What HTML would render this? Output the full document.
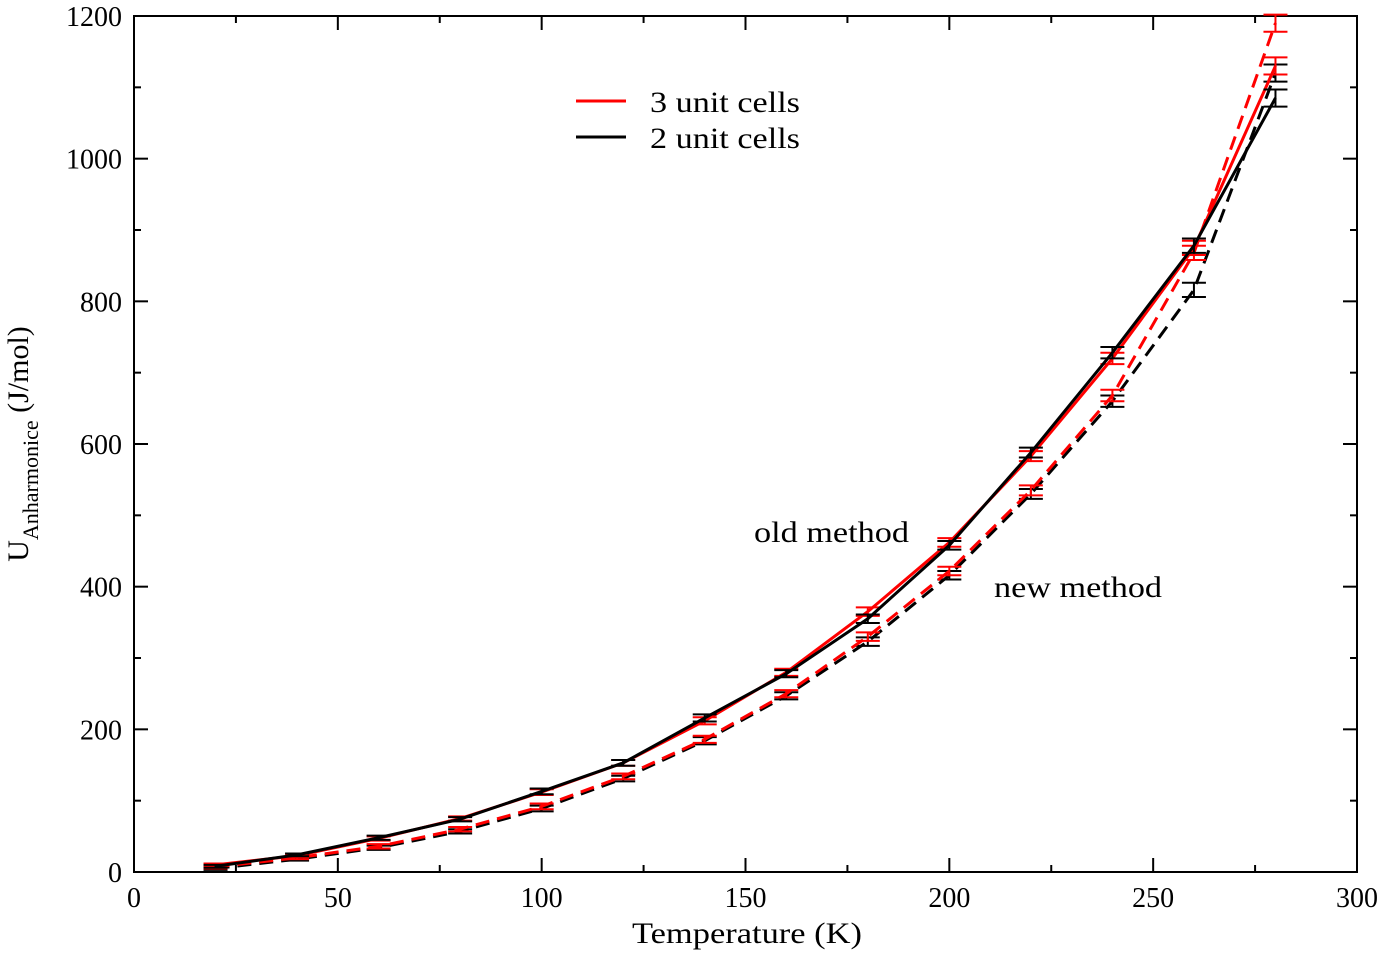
<!DOCTYPE html>
<html><head><meta charset="utf-8"><style>
html,body{margin:0;padding:0;background:#fff;}
svg{display:block;font-family:"Liberation Serif",serif;}
</style></head><body>
<svg id="chart" width="1386" height="954">
<g id="plot"></g>
<g>
<line x1="576" y1="101" x2="626" y2="101" stroke="#f00" stroke-width="3"/>
<text x="650" y="112" font-size="30" textLength="150" lengthAdjust="spacingAndGlyphs">3 unit cells</text>
<line x1="576" y1="137" x2="626" y2="137" stroke="#000" stroke-width="3"/>
<text x="650" y="148" font-size="30" textLength="150" lengthAdjust="spacingAndGlyphs">2 unit cells</text>
</g>
<text x="754" y="542" font-size="30" textLength="155" lengthAdjust="spacingAndGlyphs">old method</text>
<text x="994" y="597" font-size="30" textLength="168" lengthAdjust="spacingAndGlyphs">new method</text>
<text x="632" y="943" font-size="30" textLength="230" lengthAdjust="spacingAndGlyphs">Temperature (K)</text>
<text transform="translate(28,444) rotate(-90)" font-size="30" text-anchor="middle">U<tspan font-size="22" dy="10">Anharmonice</tspan><tspan dy="-10"> (J/mol)</tspan></text>
</svg>
<script>
const temps=[20,40,60,80,100,120,140,160,180,200,220,240,260,280];
const oldRed=[10,23,47,75,112,153,212,280,365,462,583,720,875,1130];
const oldBlack=[8,24,48,74,113,153,216,278,355,458,588,728,878,1085];
const newRed=[7,20,36,60,92,134,186,250,330,422,535,668,868,1190];
const newBlack=[5,18,34,57,89,131,184,247,323,416,530,660,816,1120];
const errs=[2,2,3,3,4,4,5,5,6,6,7,8,10,12];
const xTicks=[0,50,100,150,200,250,300];
const yTicks=[0,200,400,600,800,1000,1200];
const X0=134,X1=1357,Y0=872,Y1=16;
const xs=v=>X0+(v/300)*(X1-X0);
const ys=v=>Y0-(v/1200)*(Y0-Y1);
const NS="http://www.w3.org/2000/svg";
const g=document.getElementById('plot');
function el(t,a,p){const e=document.createElementNS(NS,t);for(const k in a)e.setAttribute(k,a[k]);(p||g).appendChild(e);return e;}
const fr=el('rect',{x:X0,y:Y1,width:X1-X0,height:Y0-Y1,fill:'none',stroke:'#000','stroke-width':2});


xTicks.forEach(t=>{
 const x=xs(t);
 el('line',{x1:x,y1:Y0,x2:x,y2:Y0-14,stroke:'#000','stroke-width':2});
 el('line',{x1:x,y1:Y1,x2:x,y2:Y1+14,stroke:'#000','stroke-width':2});
 const lb=el('text',{x:x,y:907,'font-size':28,'text-anchor':'middle'});lb.textContent=t;
 
 
});
for(let t=25;t<300;t+=50){const x=xs(t);
 el('line',{x1:x,y1:Y0,x2:x,y2:Y0-7,stroke:'#000','stroke-width':2});
 el('line',{x1:x,y1:Y1,x2:x,y2:Y1+7,stroke:'#000','stroke-width':2});}
yTicks.forEach(t=>{
 const y=ys(t);
 el('line',{x1:X0,y1:y,x2:X0+14,y2:y,stroke:'#000','stroke-width':2});
 el('line',{x1:X1,y1:y,x2:X1-14,y2:y,stroke:'#000','stroke-width':2});
 const lb=el('text',{x:122,y:y+10,'font-size':28,'text-anchor':'end'});lb.textContent=t;
 
 
});
for(let t=100;t<1200;t+=200){const y=ys(t);
 el('line',{x1:X0,y1:y,x2:X0+7,y2:y,stroke:'#000','stroke-width':2});
 el('line',{x1:X1,y1:y,x2:X1-7,y2:y,stroke:'#000','stroke-width':2});}
function series(vals,color,dash,name){
 const pts=temps.map((t,i)=>xs(t)+','+ys(vals[i])).join(' ');
 const a={points:pts,fill:'none',stroke:color,'stroke-width':3};
 if(dash)a['stroke-dasharray']='14,8';
 const pl=el('polyline',a);
 
 
 temps.forEach((t,i)=>{
  const x=xs(t),yt=ys(vals[i]+errs[i]),yb=ys(vals[i]-errs[i]);
  const eg=el('g',{stroke:color,'stroke-width':2});
  
  
  el('line',{x1:x,y1:yt,x2:x,y2:yb},eg);
  el('line',{x1:x-12,y1:yt,x2:x+12,y2:yt},eg);
  el('line',{x1:x-12,y1:yb,x2:x+12,y2:yb},eg);
 });
}
series(newBlack,'#000',true,'new-method-2-cells');
series(newRed,'#f00',true,'new-method-3-cells');
series(oldRed,'#f00',false,'old-method-3-cells');
series(oldBlack,'#000',false,'old-method-2-cells');
</script>
</body></html>
